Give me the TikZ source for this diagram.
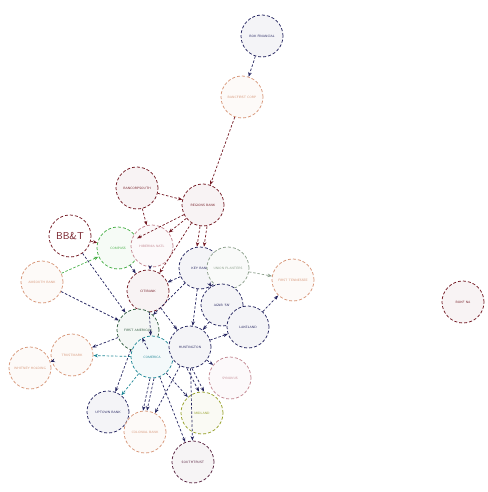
\documentclass[tikz,border=0pt]{standalone}
\usetikzlibrary{arrows.meta}
\definecolor{cnavy}{RGB}{35,35,95}
\definecolor{cred}{RGB}{115,25,35}
\definecolor{csalmon}{RGB}{215,150,120}
\definecolor{cgreen}{RGB}{70,175,70}
\definecolor{cteal}{RGB}{30,135,150}
\definecolor{colive}{RGB}{150,160,40}
\definecolor{crose}{RGB}{195,135,145}
\definecolor{cmaroon}{RGB}{85,30,60}
\definecolor{csage}{RGB}{140,160,140}
\definecolor{cdgreen}{RGB}{45,90,60}
\tikzset{
  bank/.style={circle, draw=#1, fill=#1!5, dash pattern=on 3pt off 2pt,
    line width=0.75pt, minimum size=42pt, inner sep=0pt,
    font=\fontsize{3.2}{4}\selectfont\sffamily, text=#1},
  link/.style={draw=#1, dash pattern=on 2.5pt off 1.8pt, line width=0.7pt,
    -{Stealth[length=4.5pt,width=3.5pt]}},
  link/.default=cnavy
}
\begin{document}
\begin{tikzpicture}[x=1pt,y=-1pt]
\useasboundingbox (0,0) rectangle (487,492);
% banks
\node[bank=cnavy]   (a) at (262,36)  {BOK FINANCIAL};
\node[bank=csalmon] (b) at (242,97)  {BANCFIRST CORP};
\node[bank=cred]    (c) at (137,188) {BANCORPSOUTH};
\node[bank=cred]    (d) at (203,205) {REGIONS BANK};
\node[bank=cred, fill=white, font=\fontsize{10}{12}\selectfont\sffamily] (e) at (70,236) {BB\&T};
\node[bank=cgreen]  (f) at (118,248) {COMPASS};
\node[bank=crose]   (g) at (152,246) {HIBERNIA NATL};
\node[bank=cnavy]   (h) at (200,268) {KEY BANK};
\node[bank=csage]   (i) at (228,268) {UNION PLANTERS};
\node[bank=csalmon] (j) at (293,280) {FIRST TENNESSEE};
\node[bank=csalmon] (k) at (42,282)  {AMSOUTH BANK};
\node[bank=cred]    (l) at (148,291) {CITIBANK};
\node[bank=cnavy]   (m) at (222,305) {AGNB 'SN'};
\node[bank=cnavy]   (n) at (248,327) {LAKELAND};
\node[bank=cdgreen] (o) at (138,330) {FIRST AMERICAN};
\node[bank=cteal]   (p) at (152,357) {COMERICA};
\node[bank=cnavy]   (q) at (190,347) {HUNTINGTON};
\node[bank=csalmon] (r) at (72,355)  {TRUSTMARK};
\node[bank=csalmon] (s) at (30,368)  {WHITNEY HOLDING};
\node[bank=crose]   (t) at (230,378) {SYNOVUS};
\node[bank=cnavy]   (u) at (108,412) {UPTOWN BANK};
\node[bank=csalmon] (v) at (145,432) {COLONIAL BANK};
\node[bank=colive]  (w) at (202,413) {MIDLAND};
\node[bank=cmaroon] (x) at (193,462) {SOUTHTRUST};
\node[bank=cred]    (y) at (463,302) {BOKF NA};
% links
\draw[link] (a) -- (b);
\draw[link=cred] (b) -- (d);
\draw[link=cred] (c) -- (g);
\draw[link=cred] (c) -- (d);
\draw[link=cred] (d) -- (g);
\draw[link=cred] (d) -- (f);
\draw[link=cred] ([xshift=-3pt]d.south) -- ([xshift=-3pt]h.north);
\draw[link=cred] ([xshift=4pt]d.south) -- ([xshift=4pt]h.north);
\draw[link=cred] (d) -- (l);
\draw[link=cgreen] (k) -- (f);
\draw[link=cred] (e) -- (f);
\draw[link] (e) -- (o);
\draw[link] (f) -- (l);
\draw[link] (g) -- (l);
\draw[link] (h) -- (l);
\draw[link] (h) -- (q);
\draw[link] (h) -- (o);
\draw[link] (h) -- (m);
\draw[link=csage] (i) -- (j);
\draw[link] (n) -- (j);
\draw[link] (k) -- (o);
\draw[link] (o) -- (r);
\draw[link=cteal] (p) -- (r);
\draw[link] (o) -- (p);
\draw[link] (l) -- (q);
\draw[link] (l) -- (p);
\draw[link] (m) -- (q);
\draw[link] (q) -- (n);
\draw[link] (q) -- (t);
\draw[link] ([xshift=-3pt]q.south) -- ([xshift=-3pt]w.north);
\draw[link] ([xshift=2pt]q.south) -- ([xshift=2pt]w.north);
\draw[link] (o) -- (u);
\draw[link=cteal] (p) -- (u);
\draw[link] ([xshift=-2pt]p.south) -- ([xshift=-2pt]v.north);
\draw[link] ([xshift=2pt]p.south) -- ([xshift=2pt]v.north);
\draw[link] (p) -- (x);
\draw[link] (q) -- (v);
\draw[link] (p) -- (w);
\draw[link] (q) -- (x);
\draw[link] (r) -- (s);
\end{tikzpicture}
\end{document}
